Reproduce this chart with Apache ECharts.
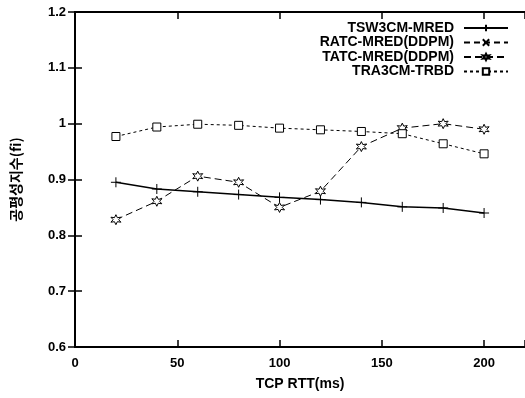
<!DOCTYPE html>
<html>
<head>
<meta charset="utf-8">
<script src="https://cdn.jsdelivr.net/npm/echarts@6/dist/echarts.min.js"></script>
<style>
  html, body { margin: 0; padding: 0; background: #fff; }
  #chart { width: 525px; height: 398px; }
</style>
</head>
<body>
<div id="chart"></div>
<script>
// TCP RTT (ms)
var rtt = [20, 40, 60, 80, 100, 120, 140, 160, 180, 200];

var tsw3cm = [0.895, 0.883, 0.878, 0.873, 0.868, 0.864, 0.859, 0.851, 0.849, 0.840];
var ratc = []; // 그림에 곡선이 보이지 않음
var tatc = [0.828, 0.861, 0.906, 0.895, 0.850, 0.879, 0.959, 0.992, 1.000, 0.990];
var tra3cm = [0.977, 0.994, 0.999, 0.997, 0.992, 0.989, 0.986, 0.982, 0.964, 0.946];

var names = ['TSW3CM-MRED', 'RATC-MRED(DDPM)', 'TATC-MRED(DDPM)', 'TRA3CM-TRBD'];

var font = 'Liberation Sans, Arial, sans-serif';
var plus = 'path://M0,5L10,5M5,0L5,10';
var cross = 'path://M1,1L9,9M9,1L1,9';
var star = 'path://M5,0L6.3,3L9.5,2.5L7.5,5L9.5,7.5L6.3,7L5,10L3.7,7L0.5,7.5L2.5,5L0.5,2.5L3.7,3Z';

function pairs(vals) {
  return vals.map(function (v, i) { return [rtt[i], v]; });
}

function mk(name, vals, symbol, size, dash, fill) {
  return {
    name: name,
    type: 'line',
    data: pairs(vals),
    symbol: symbol,
    symbolSize: size,
    showSymbol: true,
    lineStyle: { color: '#000', width: dash === 'solid' ? 1.5 : 1, type: dash },
    itemStyle: { color: fill, borderColor: '#000', borderWidth: 1 },
    emphasis: { disabled: true },
    animation: false
  };
}

var axisText = { fontFamily: font, fontWeight: 'bold', fontSize: 13, color: '#000' };

var myChart = echarts.init(document.getElementById('chart'));
myChart.setOption({
  animation: false,
  grid: { left: 75, width: 450, top: 12, bottom: 51, outerBoundsMode: 'none', containLabel: false },
  legend: {
    data: names,
    orient: 'vertical',
    align: 'right',
    right: 11,
    top: 16,
    itemWidth: 44,
    itemHeight: 8,
    itemGap: 0.5,
    textStyle: { fontFamily: font, fontWeight: 'bold', fontSize: 14, lineHeight: 14, color: '#000', padding: [0, 5, 0, 0] }
  },
  xAxis: [{
    type: 'value',
    min: 0,
    max: 220,
    interval: 50,
    name: 'TCP RTT(ms)',
    nameLocation: 'middle',
    nameGap: 30,
    nameTextStyle: { fontFamily: font, fontWeight: 'bold', fontSize: 14, color: '#000' },
    axisLine: { lineStyle: { color: '#000', width: 2 } },
    axisTick: { inside: true, length: 7, lineStyle: { color: '#000', width: 1.5 } },
    axisLabel: Object.assign({ margin: 10, formatter: function (v) { return v > 200 ? '' : v; } }, axisText),
    splitLine: { show: false }
  }, {
    type: 'value',
    position: 'top',
    min: 0,
    max: 220,
    interval: 50,
    axisLine: { show: true, lineStyle: { color: '#000', width: 2 } },
    axisTick: { inside: true, length: 7, lineStyle: { color: '#000', width: 1.5 } },
    axisLabel: { show: false },
    splitLine: { show: false }
  }],
  yAxis: [{
    type: 'value',
    min: 0.6,
    max: 1.2,
    interval: 0.1,
    name: '공평성지수(fi)',
    nameLocation: 'middle',
    nameGap: 52,
    nameTextStyle: { fontFamily: 'Noto Sans CJK KR, ' + font, fontWeight: 'bold', fontSize: 14, color: '#000' },
    axisLine: { show: true, lineStyle: { color: '#000', width: 2 } },
    axisTick: { inside: true, length: 7, lineStyle: { color: '#000', width: 1.5 } },
    axisLabel: Object.assign({ margin: 9, formatter: function (v) { return +v.toFixed(1); } }, axisText),
    splitLine: { show: false }
  }, {
    type: 'value',
    position: 'right',
    min: 0.6,
    max: 1.2,
    interval: 0.1,
    axisLine: { show: true, lineStyle: { color: '#000', width: 2 } },
    axisTick: { inside: true, length: 7, lineStyle: { color: '#000', width: 1.5 } },
    axisLabel: { show: false },
    splitLine: { show: false }
  }],
  series: [
    mk(names[0], tsw3cm, plus, 10, 'solid', 'transparent'),
    mk(names[1], ratc, cross, 8, [6, 4], 'transparent'),
    mk(names[2], tatc, star, 10, [7, 4], '#fff'),
    mk(names[3], tra3cm, 'rect', 8, [3, 3], '#fff')
  ]
});
</script>
</body>
</html>
